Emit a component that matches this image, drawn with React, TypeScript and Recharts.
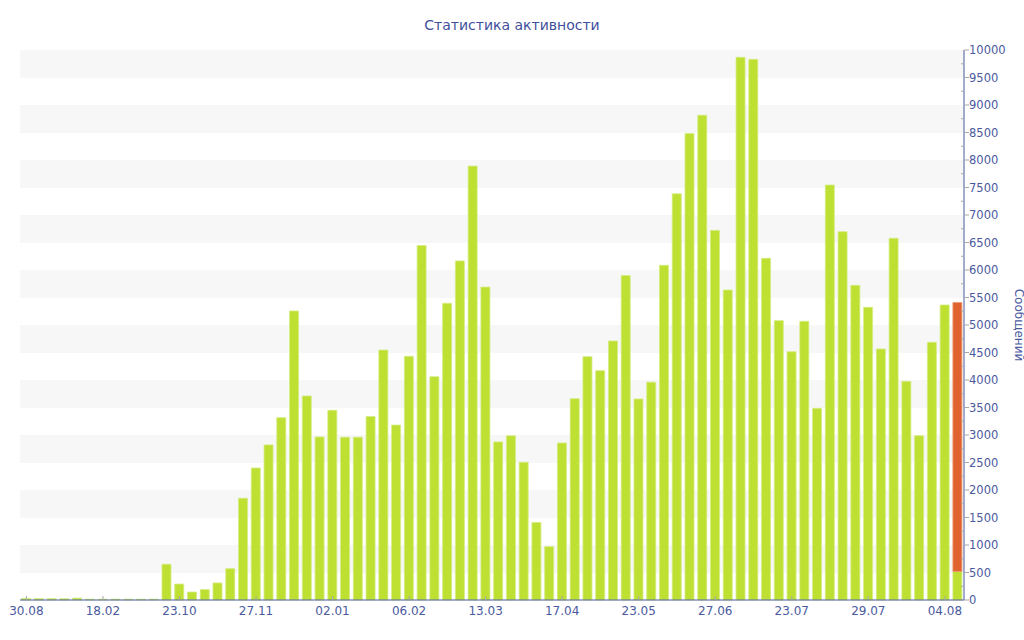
import React from 'react';
import { BarChart, Bar, XAxis, YAxis, CartesianGrid } from 'recharts';

const tickLabels = ['30.08', '18.02', '23.10', '27.11', '02.01', '06.02', '13.03', '17.04', '23.05', '27.06', '23.07', '29.07', '04.08'];

const messages = [
  30, 25, 25, 25, 35, 15, 15, 15, 15, 15, 15, 650, 290, 145, 190, 310, 570, 1850, 2400, 2820,
  3315, 5255, 3710, 2965, 3450, 2960, 2960, 3335, 4545, 3180, 4430, 6445, 4060, 5395, 6165, 7890,
  5690, 2875, 2985, 2505, 1410, 970, 2855, 3660, 4425, 4170, 4710, 5900, 3655, 3960, 6085, 7385,
  8480, 8815, 6720, 5636, 9867, 9830, 6212, 5079, 4515, 5067, 3485, 7545, 6697, 5721, 5321, 4564,
  6576, 3976, 2988, 4685, 5364, 520,
];

const current = [
  0, 0, 0, 0, 0, 0, 0, 0, 0, 0, 0, 0, 0, 0, 0, 0, 0, 0, 0, 0,
  0, 0, 0, 0, 0, 0, 0, 0, 0, 0, 0, 0, 0, 0, 0, 0,
  0, 0, 0, 0, 0, 0, 0, 0, 0, 0, 0, 0, 0, 0, 0, 0,
  0, 0, 0, 0, 0, 0, 0, 0, 0, 0, 0, 0, 0, 0, 0, 0,
  0, 0, 0, 0, 0, 4890,
];

const yTicks = [
  0, 250, 500, 750, 1000, 1250, 1500, 1750, 2000, 2250, 2500, 2750, 3000, 3250, 3500, 3750,
  4000, 4250, 4500, 4750, 5000, 5250, 5500, 5750, 6000, 6250, 6500, 6750, 7000, 7250, 7500,
  7750, 8000, 8250, 8500, 8750, 9000, 9250, 9500, 9750, 10000,
];

const TICK_EVERY = 6;
const data = messages.map((m, i) => ({
  cat: 'c' + i,
  label: i % TICK_EVERY === 0 ? tickLabels[i / TICK_EVERY] : '',
  messages: m,
  current: current[i],
}));
const xTicks = data.filter((d) => d.label !== '').map((d) => d.cat);
const labelOf: Record<string, string> = {};
data.forEach((d) => (labelOf[d.cat] = d.label));

const AXIS = '#4a5a9e';
const FONT = '"DejaVu Sans", Verdana, sans-serif';

const YTick = (props: any) => {
  const { x, y, payload } = props;
  const v = payload.value as number;
  const major = v % 500 === 0;
  return (
    <g>
      {major ? (
        <line x1={x} x2={x + 5} y1={y} y2={y} stroke="#a8a8a8" strokeWidth={1} />
      ) : (
        <line x1={x - 3} x2={x} y1={y} y2={y} stroke="#a8a8a8" strokeWidth={1} />
      )}
      {major && (
        <text x={x + 5} y={y} dy={4} fill={AXIS} fontSize={11.5} fontFamily={FONT} textAnchor="start">
          {v}
        </text>
      )}
    </g>
  );
};

const XTick = (props: any) => {
  const { x, y, payload } = props;
  return (
    <g>
      <line x1={x} x2={x} y1={y - 4} y2={y} stroke="#a8a8a8" />
      <text x={x} y={y} dy={15} fill={AXIS} fontSize={12} fontFamily={FONT} textAnchor="middle">
        {labelOf[payload.value]}
      </text>
    </g>
  );
};

const YLabel = (props: any) => {
  const { viewBox } = props;
  const cx = viewBox.x + 54;
  const cy = viewBox.y + viewBox.height / 2;
  return (
    <text x={cx} y={cy} transform={`rotate(90, ${cx}, ${cy})`} textAnchor="middle" dominantBaseline="middle" fill={AXIS} fontSize={12} fontFamily={FONT}>
      Сообщений
    </text>
  );
};

export default function App() {
  return (
    <div style={{ position: 'absolute', left: 0, top: 0, width: 1024, height: 640, background: '#fff' }}>
      <div
        style={{
          position: 'absolute',
          top: 17,
          left: 0,
          width: 1024,
          textAlign: 'center',
          fontFamily: FONT,
          fontSize: 14,
          color: '#3f4f9c',
        }}
      >
        Статистика активности
      </div>
      <BarChart
        width={1024}
        height={640}
        data={data}
        margin={{ top: 50, right: 0, left: 20, bottom: 10 }}
        barCategoryGap="13%"
      >
        <CartesianGrid
          vertical={false}
          horizontal={true}
          stroke="transparent"
          horizontalFill={['#f7f7f7', '#f7f7f7', '#ffffff', '#ffffff']}
          fillOpacity={1}
        />
        <XAxis
          dataKey="cat"
          ticks={xTicks}
          interval={0}
          tick={<XTick />}
          tickLine={false}
          tickSize={0}
          tickMargin={0}
          axisLine={{ stroke: AXIS }}
          height={30}
        />
        <YAxis
          orientation="right"
          domain={[0, 10000]}
          ticks={yTicks}
          interval={0}
          tick={<YTick />}
          tickLine={false}
          tickSize={0}
          tickMargin={0}
          axisLine={{ stroke: AXIS }}
          width={60}
          label={<YLabel />}
        />
        <Bar dataKey="messages" stackId="a" fill="#bde032" stroke="#d4ec80" strokeWidth={0.8} isAnimationActive={false} />
        <Bar dataKey="current" stackId="a" fill="#e0632f" stroke="#ee9a70" strokeWidth={0.8} isAnimationActive={false} />
      </BarChart>
    </div>
  );
}
